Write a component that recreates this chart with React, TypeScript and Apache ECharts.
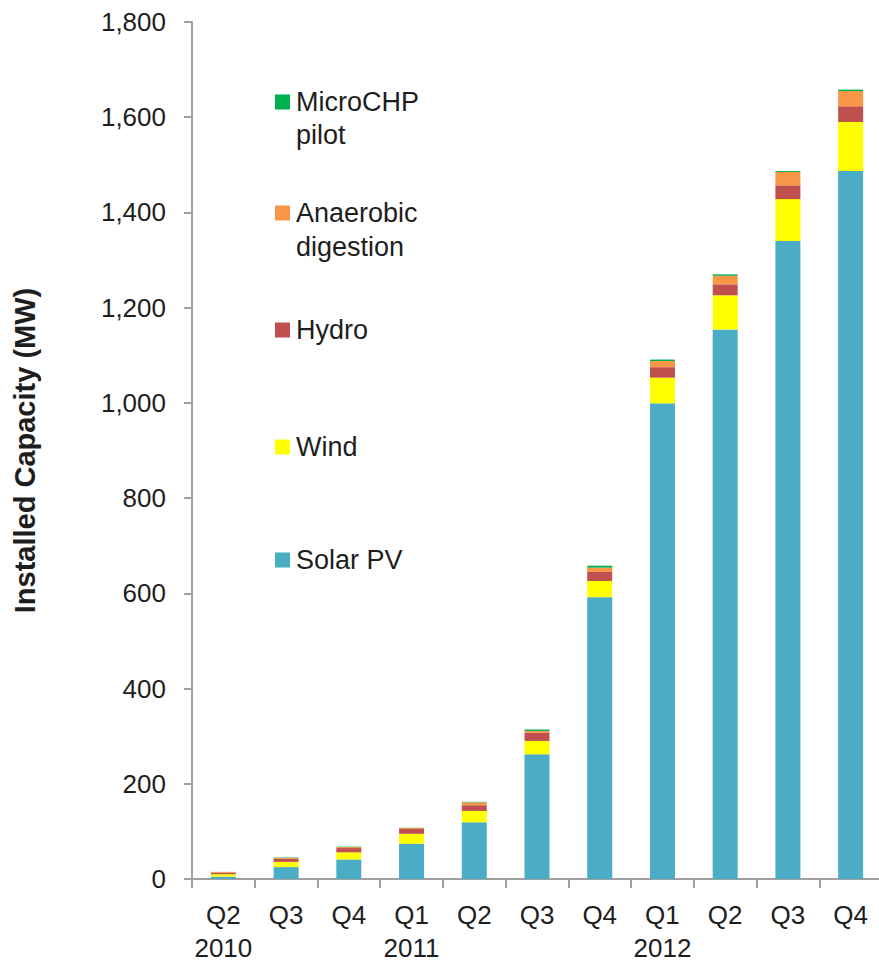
import React, { useEffect, useRef } from "react";
import * as echarts from "echarts";

const quarterLabels = ["Q2", "Q3", "Q4", "Q1", "Q2", "Q3", "Q4", "Q1", "Q2", "Q3", "Q4"];
const yearLabels = ["2010", "", "", "2011", "", "", "", "2012", "", "", ""];
const categories = ["Q2 2010", "Q3 2010", "Q4 2010", "Q1 2011", "Q2 2011", "Q3 2011", "Q4 2011", "Q1 2012", "Q2 2012", "Q3 2012", "Q4 2012"];

const solarPV = [5, 25, 41, 74, 119, 262, 592, 999, 1154, 1340, 1487];
const wind = [5, 11, 15, 21, 24, 28, 34, 54, 72, 88, 103];
const hydro = [3, 6, 9, 10, 12, 17, 19, 22, 23, 29, 33];
const anaerobic = [2, 2, 2, 2, 6, 4, 9, 13, 18, 28, 32];
const microCHP = [0, 1, 1, 0.5, 1, 3, 4, 3, 3, 2, 3];

const yTicks = { min: 0, max: 1800, interval: 200 };

const FONT = "'Liberation Sans', Arial, Helvetica, sans-serif";
const TEXT = "#1e1e1e";

export default function App() {
  const ref = useRef<HTMLDivElement>(null);
  useEffect(() => {
    document.body.style.margin = "0";
    const chart = echarts.init(ref.current!, null, { renderer: "svg" });
    const legendItem = (name: string, label: string, centerY: number) => ({
      show: true,
      left: 275,
      top: centerY - 16.5,
      orient: "vertical",
      itemWidth: 15,
      itemHeight: 15,
      itemGap: 0,
      padding: 0,
      selectedMode: false,
      icon: "rect",
      data: [name],
      formatter: () => label,
      textStyle: { fontFamily: FONT, fontSize: 27, color: TEXT, lineHeight: 33, padding: [0, 0, 0, 1] },
    });
    const series = [
      { name: "Solar PV", data: solarPV, color: "#4BACC6" },
      { name: "Wind", data: wind, color: "#FFFF00" },
      { name: "Hydro", data: hydro, color: "#C0504D" },
      { name: "Anaerobic digestion", data: anaerobic, color: "#F79646" },
      { name: "MicroCHP pilot", data: microCHP, color: "#00B050" },
    ].map((s) => ({
      type: "bar",
      name: s.name,
      stack: "total",
      data: s.data,
      barWidth: 25,
      itemStyle: { color: s.color },
    }));
    chart.setOption({
      animation: false,
      backgroundColor: "#ffffff",
      textStyle: { fontFamily: FONT },
      grid: { left: 192, top: 22, width: 690, height: 857, containLabel: false, outerBoundsMode: "none" },
      legend: [
        legendItem("MicroCHP pilot", "MicroCHP", 102),
        legendItem("Anaerobic digestion", "Anaerobic", 213),
        legendItem("Hydro", "Hydro", 330),
        legendItem("Wind", "Wind", 447),
        legendItem("Solar PV", "Solar PV", 560),
      ],
      graphic: [
        { type: "text", left: 296, top: 135 - 16.5, style: { text: "pilot", fontFamily: FONT, fontSize: 27, fill: TEXT, lineHeight: 33 } },
        { type: "text", left: 296, top: 247 - 16.5, style: { text: "digestion", fontFamily: FONT, fontSize: 27, fill: TEXT, lineHeight: 33 } },
      ],
      xAxis: {
        type: "category",
        data: categories,
        axisLine: { show: true, lineStyle: { color: "#a0a0a0", width: 2 } },
        axisTick: { show: true, length: 9, interval: 0, lineStyle: { color: "#a0a0a0", width: 2 } },
        axisLabel: {
          interval: 0,
          margin: 19,
          fontFamily: FONT,
          fontSize: 26,
          lineHeight: 33,
          color: TEXT,
          formatter: (_v: string, i: number) => quarterLabels[i] + (yearLabels[i] ? "\n" + yearLabels[i] : ""),
        },
      },
      yAxis: {
        type: "value",
        min: yTicks.min,
        max: yTicks.max,
        interval: yTicks.interval,
        name: "Installed Capacity (MW)",
        nameLocation: "middle",
        nameGap: 153,
        nameRotate: 90,
        nameTextStyle: { fontFamily: FONT, fontSize: 29, fontWeight: "bold", color: TEXT },
        axisLine: { show: true, lineStyle: { color: "#a0a0a0", width: 2 } },
        axisTick: { show: true, length: 8, lineStyle: { color: "#a0a0a0", width: 2 } },
        splitLine: { show: false },
        axisLabel: {
          margin: 26,
          fontFamily: FONT,
          fontSize: 26,
          color: TEXT,
          formatter: (v: number) => v.toLocaleString("en-US"),
        },
      },
      series,
    });
    return () => chart.dispose();
  }, []);
  return <div ref={ref} style={{ width: 879, height: 966 }} />;
}
